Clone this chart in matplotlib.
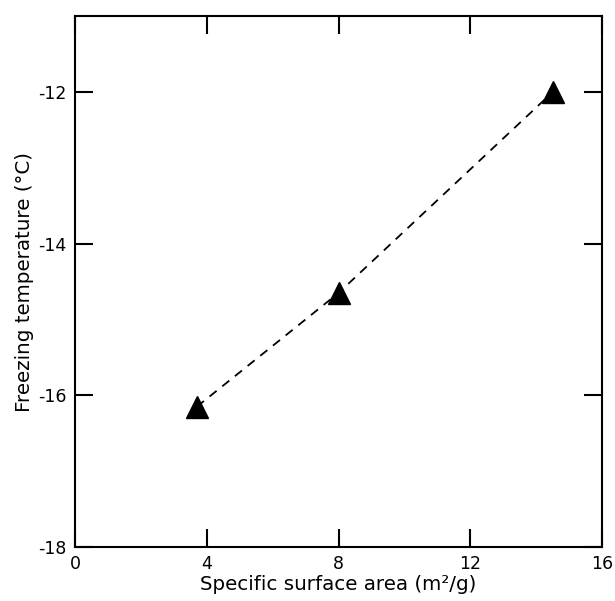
import numpy as np
import matplotlib
matplotlib.use('Agg')
import matplotlib.pyplot as plt

# data
surface_area = [3.7, 8.0, 14.5]
freezing_temp = [-16.15, -14.65, -12.0]
x_ticks = [0, 4, 8, 12, 16]
y_ticks = [-18, -16, -14, -12]

plt.rcParams['axes.unicode_minus'] = False
plt.rcParams['font.family'] = ['DejaVu Sans']

fig = plt.figure(figsize=(6.15, 6.01), dpi=100)
ax = fig.add_axes([0.122, 0.09, 0.857, 0.883])

ax.plot(surface_area, freezing_temp, linestyle=(0, (5, 4)), color='black', linewidth=1.3, zorder=2)
ax.plot(surface_area, freezing_temp, linestyle='none', marker='^', markersize=16,
        color='black', zorder=3)

ax.set_xlim(0, 16)
ax.set_ylim(-18, -11)
ax.set_xticks(x_ticks)
ax.set_yticks(y_ticks)
ax.tick_params(direction='in', length=13, width=1.5, top=True, right=True, labelsize=12.5, pad=6)
for s in ax.spines.values():
    s.set_linewidth(1.5)

ax.set_xlabel("Specific surface area (m²/g)", fontsize=14.3, labelpad=1)
ax.set_ylabel("Freezing temperature (°C)", fontsize=14.3, labelpad=3)

fig.savefig('out.png', dpi=100)
